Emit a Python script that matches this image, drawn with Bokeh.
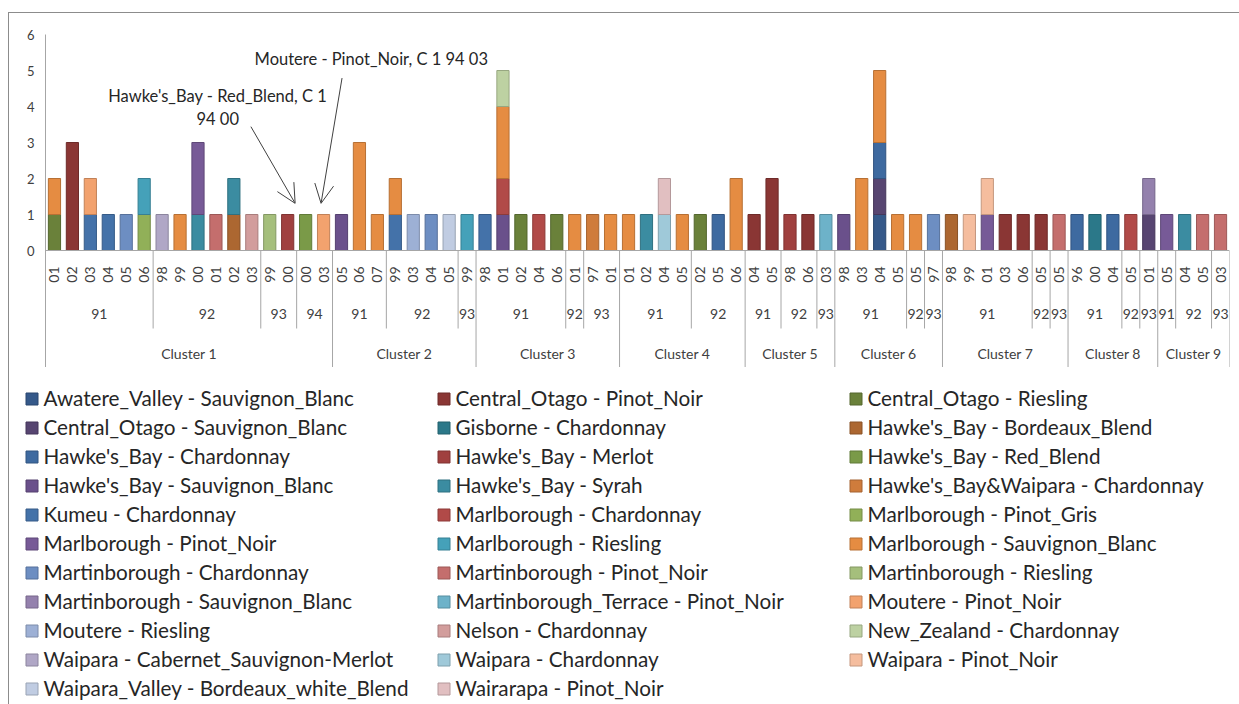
from collections import defaultdict

from bokeh.core.properties import value
from bokeh.embed import file_html
from bokeh.layouts import column
from bokeh.models import (Arrow, ColumnDataSource, FactorRange, FixedTicker, Legend,
                          LegendItem, OpenHead, Range1d, Span)
from bokeh.plotting import figure
from bokeh.resources import INLINE

FONT = "Lato"

# ---- categories: (cluster, vintage group, year) ----
x_groups = [
    ("Cluster 1", "91", ["01", "02", "03", "04", "05", "06"]),
    ("Cluster 1", "92", ["98", "99", "00", "01", "02", "03"]),
    ("Cluster 1", "93", ["99", "00"]),
    ("Cluster 1", "94", ["00", "03"]),
    ("Cluster 2", "91", ["05", "06", "07"]),
    ("Cluster 2", "92", ["99", "03", "04", "05"]),
    ("Cluster 2", "93", ["99"]),
    ("Cluster 3", "91", ["98", "01", "02", "04", "06"]),
    ("Cluster 3", "92", ["01"]),
    ("Cluster 3", "93", ["97", "01"]),
    ("Cluster 4", "91", ["01", "02", "04", "05"]),
    ("Cluster 4", "92", ["02", "05", "06"]),
    ("Cluster 5", "91", ["04", "05"]),
    ("Cluster 5", "92", ["98", "06"]),
    ("Cluster 5", "93", ["03"]),
    ("Cluster 6", "91", ["98", "03", "04", "05"]),
    ("Cluster 6", "92", ["05"]),
    ("Cluster 6", "93", ["97"]),
    ("Cluster 7", "91", ["98", "99", "01", "03", "06"]),
    ("Cluster 7", "92", ["05"]),
    ("Cluster 7", "93", ["05"]),
    ("Cluster 8", "91", ["96", "00", "04"]),
    ("Cluster 8", "92", ["05"]),
    ("Cluster 8", "93", ["01"]),
    ("Cluster 9", "91", ["05"]),
    ("Cluster 9", "92", ["04", "05"]),
    ("Cluster 9", "93", ["03"]),
]

# ---- series (legend order = stacking order) ----
series_names = [
    "Awatere_Valley - Sauvignon_Blanc", "Central_Otago - Pinot_Noir", "Central_Otago - Riesling",
    "Central_Otago - Sauvignon_Blanc", "Gisborne - Chardonnay", "Hawke's_Bay - Bordeaux_Blend",
    "Hawke's_Bay - Chardonnay", "Hawke's_Bay - Merlot", "Hawke's_Bay - Red_Blend",
    "Hawke's_Bay - Sauvignon_Blanc", "Hawke's_Bay - Syrah", "Hawke's_Bay&Waipara - Chardonnay",
    "Kumeu - Chardonnay", "Marlborough - Chardonnay", "Marlborough - Pinot_Gris",
    "Marlborough - Pinot_Noir", "Marlborough - Riesling", "Marlborough - Sauvignon_Blanc",
    "Martinborough - Chardonnay", "Martinborough - Pinot_Noir", "Martinborough - Riesling",
    "Martinborough - Sauvignon_Blanc", "Martinborough_Terrace - Pinot_Noir", "Moutere - Pinot_Noir",
    "Moutere - Riesling", "Nelson - Chardonnay", "New_Zealand - Chardonnay",
    "Waipara - Cabernet_Sauvignon-Merlot", "Waipara - Chardonnay", "Waipara - Pinot_Noir",
    "Waipara_Valley - Bordeaux_white_Blend", "Wairarapa - Pinot_Noir",
]
series_colors = [
    "#35598A", "#8A3634", "#6A813A", "#574571", "#2B7889", "#AC6731",
    "#3E6AA0", "#A0403F", "#7A9A48", "#6A508B", "#3B8CA1", "#CF7C3C",
    "#4472A9", "#B14A48", "#91B058", "#775A97", "#45A1B9", "#E58C42",
    "#6D8EC2", "#C46E6D", "#A5BF7C", "#9481AD", "#6DB2C9", "#F2A26E",
    "#9DB0D5", "#D29D9C", "#BDD1A2", "#B0A7C6", "#9FC9D9", "#F5BD9E",
    "#C0CCE2", "#E1BFC1",
]

# ---- counts: (cluster, group, year, series, count) ----
segments = [
    ("Cluster 1", "91", "01", "Central_Otago - Riesling", 1),
    ("Cluster 1", "91", "01", "Marlborough - Sauvignon_Blanc", 1),
    ("Cluster 1", "91", "02", "Central_Otago - Pinot_Noir", 3),
    ("Cluster 1", "91", "03", "Kumeu - Chardonnay", 1),
    ("Cluster 1", "91", "03", "Moutere - Pinot_Noir", 1),
    ("Cluster 1", "91", "04", "Kumeu - Chardonnay", 1),
    ("Cluster 1", "91", "05", "Martinborough - Chardonnay", 1),
    ("Cluster 1", "91", "06", "Marlborough - Pinot_Gris", 1),
    ("Cluster 1", "91", "06", "Marlborough - Riesling", 1),
    ("Cluster 1", "92", "98", "Waipara - Cabernet_Sauvignon-Merlot", 1),
    ("Cluster 1", "92", "99", "Marlborough - Sauvignon_Blanc", 1),
    ("Cluster 1", "92", "00", "Hawke's_Bay - Syrah", 1),
    ("Cluster 1", "92", "00", "Marlborough - Pinot_Noir", 2),
    ("Cluster 1", "92", "01", "Martinborough - Pinot_Noir", 1),
    ("Cluster 1", "92", "02", "Hawke's_Bay - Bordeaux_Blend", 1),
    ("Cluster 1", "92", "02", "Hawke's_Bay - Syrah", 1),
    ("Cluster 1", "92", "03", "Nelson - Chardonnay", 1),
    ("Cluster 1", "93", "99", "Martinborough - Riesling", 1),
    ("Cluster 1", "93", "00", "Hawke's_Bay - Merlot", 1),
    ("Cluster 1", "94", "00", "Hawke's_Bay - Red_Blend", 1),
    ("Cluster 1", "94", "03", "Moutere - Pinot_Noir", 1),
    ("Cluster 2", "91", "05", "Hawke's_Bay - Sauvignon_Blanc", 1),
    ("Cluster 2", "91", "06", "Marlborough - Sauvignon_Blanc", 3),
    ("Cluster 2", "91", "07", "Marlborough - Sauvignon_Blanc", 1),
    ("Cluster 2", "92", "99", "Kumeu - Chardonnay", 1),
    ("Cluster 2", "92", "99", "Marlborough - Sauvignon_Blanc", 1),
    ("Cluster 2", "92", "03", "Moutere - Riesling", 1),
    ("Cluster 2", "92", "04", "Martinborough - Chardonnay", 1),
    ("Cluster 2", "92", "05", "Waipara_Valley - Bordeaux_white_Blend", 1),
    ("Cluster 2", "93", "99", "Marlborough - Riesling", 1),
    ("Cluster 3", "91", "98", "Kumeu - Chardonnay", 1),
    ("Cluster 3", "91", "01", "Hawke's_Bay - Sauvignon_Blanc", 1),
    ("Cluster 3", "91", "01", "Marlborough - Chardonnay", 1),
    ("Cluster 3", "91", "01", "Marlborough - Sauvignon_Blanc", 2),
    ("Cluster 3", "91", "01", "New_Zealand - Chardonnay", 1),
    ("Cluster 3", "91", "02", "Central_Otago - Riesling", 1),
    ("Cluster 3", "91", "04", "Marlborough - Chardonnay", 1),
    ("Cluster 3", "91", "06", "Central_Otago - Riesling", 1),
    ("Cluster 3", "92", "01", "Marlborough - Sauvignon_Blanc", 1),
    ("Cluster 3", "93", "97", "Hawke's_Bay&Waipara - Chardonnay", 1),
    ("Cluster 3", "93", "01", "Marlborough - Sauvignon_Blanc", 1),
    ("Cluster 4", "91", "01", "Marlborough - Sauvignon_Blanc", 1),
    ("Cluster 4", "91", "02", "Hawke's_Bay - Syrah", 1),
    ("Cluster 4", "91", "04", "Waipara - Chardonnay", 1),
    ("Cluster 4", "91", "04", "Wairarapa - Pinot_Noir", 1),
    ("Cluster 4", "91", "05", "Marlborough - Sauvignon_Blanc", 1),
    ("Cluster 4", "92", "02", "Central_Otago - Riesling", 1),
    ("Cluster 4", "92", "05", "Hawke's_Bay - Chardonnay", 1),
    ("Cluster 4", "92", "06", "Marlborough - Sauvignon_Blanc", 2),
    ("Cluster 5", "91", "04", "Central_Otago - Pinot_Noir", 1),
    ("Cluster 5", "91", "05", "Central_Otago - Pinot_Noir", 2),
    ("Cluster 5", "92", "98", "Hawke's_Bay - Merlot", 1),
    ("Cluster 5", "92", "06", "Central_Otago - Pinot_Noir", 1),
    ("Cluster 5", "93", "03", "Martinborough_Terrace - Pinot_Noir", 1),
    ("Cluster 6", "91", "98", "Hawke's_Bay - Sauvignon_Blanc", 1),
    ("Cluster 6", "91", "03", "Marlborough - Sauvignon_Blanc", 2),
    ("Cluster 6", "91", "04", "Awatere_Valley - Sauvignon_Blanc", 1),
    ("Cluster 6", "91", "04", "Central_Otago - Sauvignon_Blanc", 1),
    ("Cluster 6", "91", "04", "Hawke's_Bay - Chardonnay", 1),
    ("Cluster 6", "91", "04", "Marlborough - Sauvignon_Blanc", 2),
    ("Cluster 6", "91", "05", "Marlborough - Sauvignon_Blanc", 1),
    ("Cluster 6", "92", "05", "Marlborough - Sauvignon_Blanc", 1),
    ("Cluster 6", "93", "97", "Martinborough - Chardonnay", 1),
    ("Cluster 7", "91", "98", "Hawke's_Bay - Bordeaux_Blend", 1),
    ("Cluster 7", "91", "99", "Waipara - Pinot_Noir", 1),
    ("Cluster 7", "91", "01", "Marlborough - Pinot_Noir", 1),
    ("Cluster 7", "91", "01", "Waipara - Pinot_Noir", 1),
    ("Cluster 7", "91", "03", "Central_Otago - Pinot_Noir", 1),
    ("Cluster 7", "91", "06", "Central_Otago - Pinot_Noir", 1),
    ("Cluster 7", "92", "05", "Central_Otago - Pinot_Noir", 1),
    ("Cluster 7", "93", "05", "Martinborough - Pinot_Noir", 1),
    ("Cluster 8", "91", "96", "Hawke's_Bay - Chardonnay", 1),
    ("Cluster 8", "91", "00", "Gisborne - Chardonnay", 1),
    ("Cluster 8", "91", "04", "Hawke's_Bay - Chardonnay", 1),
    ("Cluster 8", "92", "05", "Marlborough - Chardonnay", 1),
    ("Cluster 8", "93", "01", "Central_Otago - Sauvignon_Blanc", 1),
    ("Cluster 8", "93", "01", "Martinborough - Sauvignon_Blanc", 1),
    ("Cluster 9", "91", "05", "Marlborough - Pinot_Noir", 1),
    ("Cluster 9", "92", "04", "Hawke's_Bay - Syrah", 1),
    ("Cluster 9", "92", "05", "Martinborough - Pinot_Noir", 1),
    ("Cluster 9", "93", "03", "Martinborough - Pinot_Noir", 1),
]

# ---- callouts ----
callout_texts = ["Hawke's_Bay - Red_Blend, C 1\n94 00", "Moutere - Pinot_Noir, C 1 94 03"]
callout_bars = [("Cluster 1", "94", "00"), ("Cluster 1", "94", "03")]


def darken(hex_color, k=0.8):
    h = hex_color.lstrip("#")
    r, g, b = (int(h[i:i + 2], 16) for i in (0, 2, 4))
    return "#%02x%02x%02x" % (int(r * k), int(g * k), int(b * k))


factors = [(c, g, y) for c, g, ys in x_groups for y in ys]
xr = FactorRange(*factors, factor_padding=0, subgroup_padding=0,
                 group_padding=0, range_padding=0)

# ================= chart =================
p = figure(
    x_range=xr, y_range=Range1d(-3.25, 6.0),
    width=1230, height=354,
    output_backend="svg", toolbar_location=None,
    min_border_left=36, min_border_right=10, min_border_top=21, min_border_bottom=0,
)
p.outline_line_color = None
p.xgrid.visible = False
p.ygrid.visible = False
p.xaxis.visible = False

ax = p.yaxis[0]
ax.ticker = FixedTicker(ticks=[0, 1, 2, 3, 4, 5, 6])
ax.axis_line_color = "#a6a6a6"
ax.major_tick_line_color = None
ax.minor_tick_line_color = None
ax.major_tick_out = 0
ax.major_tick_in = 0
ax.major_label_standoff = 11
ax.major_label_text_font = FONT
ax.major_label_text_font_size = "13px"
ax.major_label_text_color = "#404040"

# stacked bars
sidx = {s: i for i, s in enumerate(series_names)}
per_bar = defaultdict(list)
for c, g, y, s, n in segments:
    per_bar[(c, g, y)].append((sidx[s], n))
rows = {s: dict(x=[], bottom=[], top=[]) for s in series_names}
for f in factors:
    base = 0
    for i, n in sorted(per_bar[f]):
        rows[series_names[i]]["x"].append(f)
        rows[series_names[i]]["bottom"].append(base)
        rows[series_names[i]]["top"].append(base + n)
        base += n
sources = {s: ColumnDataSource(rows[s]) for s in series_names}

for s, col in zip(series_names, series_colors):
    p.vbar(x="x", bottom="bottom", top="top", width=0.68, source=sources[s],
           fill_color=col, line_color=darken(col), line_width=1)

# category axis (3 levels)
p.add_layout(Span(location=0, dimension="width", line_color="#a6a6a6", line_width=1))

p.text(x="x", y=-0.667, text="t",
       source=ColumnDataSource(dict(x=factors, t=[f[2] for f in factors])),
       angle=1.5708, text_align="center", text_baseline="middle",
       text_font=value(FONT), text_font_size="14px", text_color="#404040")

grp_x, grp_t = [], []
sep_x, sep_y = [], []
for k, (c, g, ys) in enumerate(x_groups):
    grp_x.append((c, g, ys[0], (len(ys) - 1) / 2))
    grp_t.append(g)
    last_in_cluster = k == len(x_groups) - 1 or x_groups[k + 1][0] != c
    sep_x.append((c, g, ys[-1], 0.5))
    sep_y.append(-3.25 if last_in_cluster else -2.167)
p.text(x="x", y=-1.75, text="t", source=ColumnDataSource(dict(x=grp_x, t=grp_t)),
       text_align="center", text_baseline="middle",
       text_font=value(FONT), text_font_size="14px", text_color="#404040")
p.segment(x0="x", y0=0, x1="x", y1="y1", source=ColumnDataSource(dict(x=sep_x, y1=sep_y)),
          line_color="#a6a6a6", line_width=1)

cl_x, cl_t = [], []
clusters = list(dict.fromkeys(c for c, _, _ in x_groups))
for c in clusters:
    fs = [f for f in factors if f[0] == c]
    cl_x.append(fs[0] + ((len(fs) - 1) / 2,))
    cl_t.append(c)
p.text(x="x", y=-2.86, text="t", source=ColumnDataSource(dict(x=cl_x, t=cl_t)),
       text_align="center", text_baseline="middle",
       text_font=value(FONT), text_font_size="14px", text_color="#404040")

# callouts
p.text(x="x", y="y", text="t",
       source=ColumnDataSource(dict(
           x=[callout_bars[0] + (-4.9,), callout_bars[1] + (2.66,)],
           y=[3.96, 5.33], t=callout_texts)),
       text_align="center", text_baseline="middle", text_line_height=1.15,
       text_font=value(FONT), text_font_size="16.5px", text_color="#262626")
arrow_src = ColumnDataSource(dict(
    x0=[callout_bars[0] + (-3.05,), callout_bars[1] + (1.03,)],
    y0=[3.44, 4.79],
    x1=[callout_bars[0] + (-0.585,), callout_bars[1] + (-0.14,)],
    y1=[1.31, 1.31]))
p.add_layout(Arrow(end=OpenHead(size=19, line_color="#404040", line_width=1),
                   x_start="x0", y_start="y0", x_end="x1", y_end="y1",
                   source=arrow_src, line_color="#404040", line_width=1))

# ================= legend panel =================
# same series sources; its y-range lies above every bar so only the legend shows
pl = figure(width=1230, height=337, output_backend="svg", toolbar_location=None,
            min_border_left=0, min_border_right=0, min_border_top=0, min_border_bottom=0,
            x_range=xr, y_range=Range1d(100, 101))
pl.axis.visible = False
pl.grid.visible = False
pl.outline_line_color = None
lx = -21.5
if "frame_align" in pl.properties():
    pl.frame_align = False
    p.frame_align = False
    lx = 14.5
items = []
for s, col in zip(series_names, series_colors):
    r = pl.vbar(x="x", bottom="bottom", top="top", width=0.68, source=sources[s],
                fill_color=col, line_color=darken(col), line_width=1)
    items.append(LegendItem(label=s, renderers=[r]))
legend = Legend(items=items, location=(lx, 1.5), orientation="horizontal", ncols=3,
                glyph_width=15, glyph_height=15, label_standoff=5, label_width=392,
                label_height=29, spacing=0, padding=0, margin=0,
                border_line_color=None, background_fill_alpha=0,
                label_text_font=FONT, label_text_font_size="20.7px",
                label_text_color="#262626")
pl.add_layout(legend)

layout = column(p, pl, spacing=0)
layout.styles = {"margin-left": "8px", "margin-top": "12px",
                 "border-top": "1px solid #8c8c8c", "border-left": "1px solid #8c8c8c"}

open("out.html", "w").write(file_html(layout, INLINE))
